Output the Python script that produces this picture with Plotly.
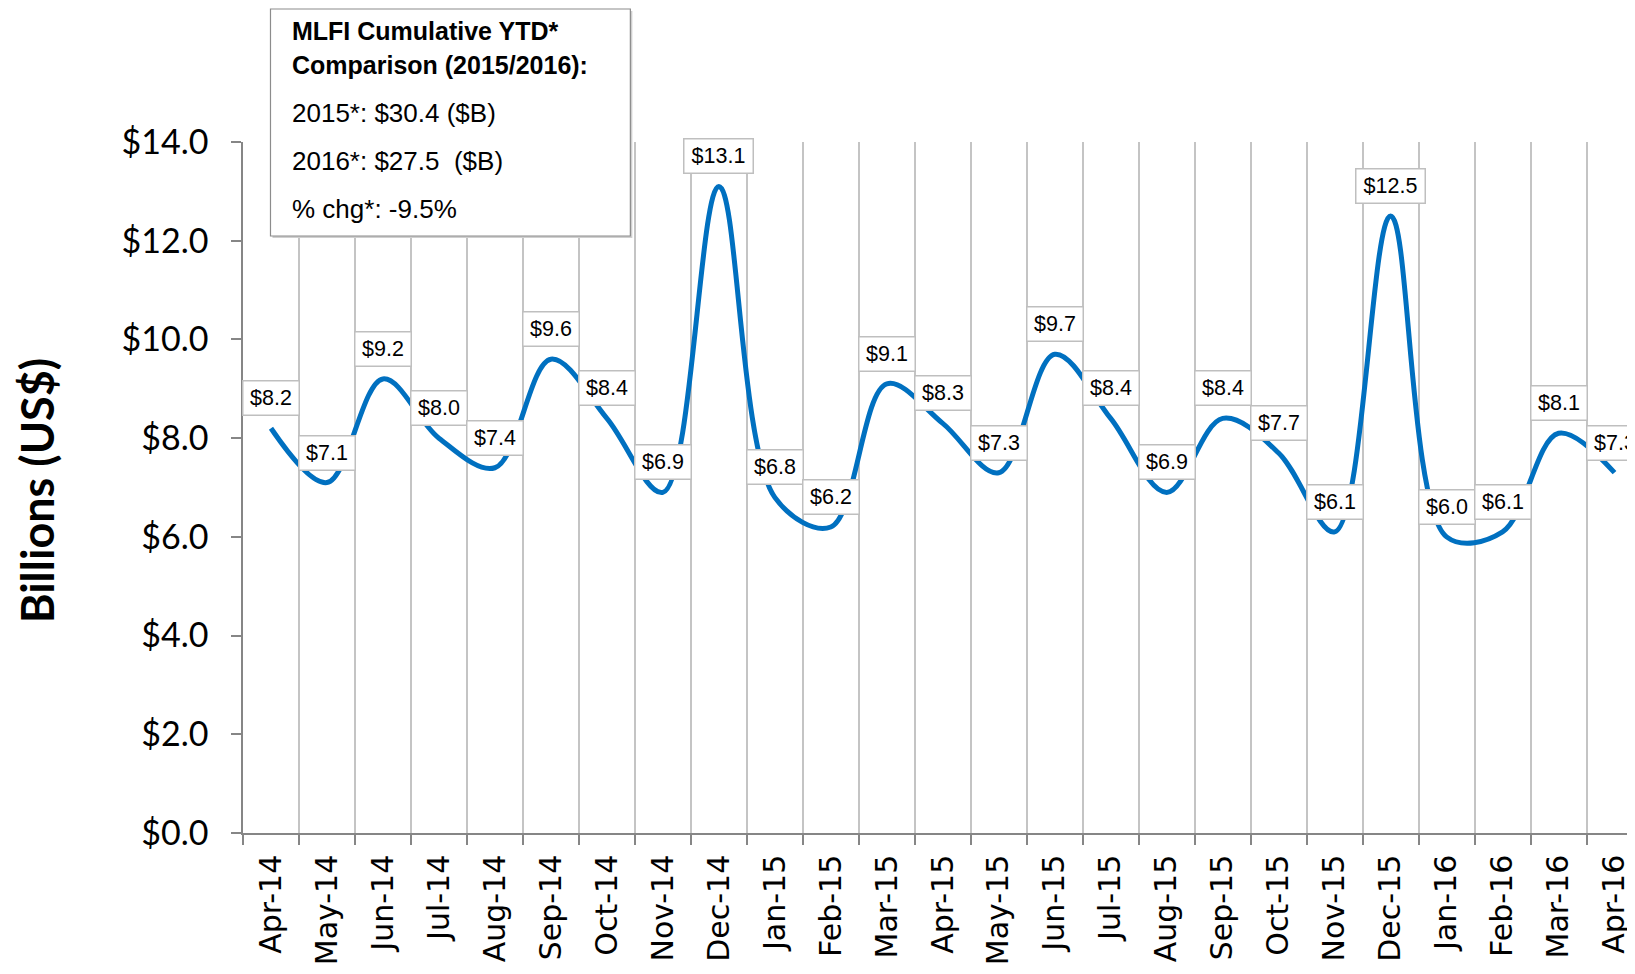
import plotly.graph_objects as go

months = ["Apr-14", "May-14", "Jun-14", "Jul-14", "Aug-14", "Sep-14", "Oct-14", "Nov-14",
          "Dec-14", "Jan-15", "Feb-15", "Mar-15", "Apr-15", "May-15", "Jun-15", "Jul-15",
          "Aug-15", "Sep-15", "Oct-15", "Nov-15", "Dec-15", "Jan-16", "Feb-16", "Mar-16", "Apr-16"]
values = [8.2, 7.1, 9.2, 8.0, 7.4, 9.6, 8.4, 6.9, 13.1, 6.8, 6.2, 9.1, 8.3, 7.3, 9.7, 8.4,
          6.9, 8.4, 7.7, 6.1, 12.5, 6.0, 6.1, 8.1, 7.3]
y_ticks = [0, 2, 4, 6, 8, 10, 12, 14]
y_tick_labels = ["$0.0", "$2.0", "$4.0", "$6.0", "$8.0", "$10.0", "$12.0", "$14.0"]
info_lines = ["<b>MLFI Cumulative YTD*</b>", "<b>Comparison (2015/2016):</b>",
              "2015*: $30.4 ($B)", "2016*: $27.5  ($B)", "% chg*: -9.5%"]
y_title = "Billions (US$)"

# the page body adds an 8px margin, so the figure is laid out in page coords minus 8
OFF = 8
W, H = 1635 - OFF, 974 - 2 * OFF
L = 242.5 - OFF
T = 142 - OFF
PLOT_BOTTOM = 833 - OFF
B = H - PLOT_BOTTOM
PW, PH = W - L, PLOT_BOTTOM - T
cat_w = 56.0


def px(x):
    # page x -> paper x
    return (x - OFF - L) / PW


def py(y):
    # page y -> paper y
    return (PLOT_BOTTOM - (y - OFF)) / PH


fig = go.Figure()
fig.add_trace(go.Scatter(
    x=months, y=values, mode="lines",
    line=dict(color="#0070C0", width=5, shape="spline", smoothing=1.0),
    hoverinfo="x+y", showlegend=False,
))

annotations = []
for m, v in zip(months, values):
    txt = f"${v:.1f}"
    annotations.append(dict(
        x=m, y=v, xref="x", yref="y", text=txt, showarrow=False, yshift=30,
        font=dict(family="Liberation Sans, Arial", size=21.5, color="black"),
        bgcolor="white", bordercolor="#bfbfbf", borderwidth=1.5, borderpad=3,
        width=49 if len(txt) <= 4 else 62, height=27,
    ))

# info box text
line_y = [31, 65, 113, 161, 209]
line_size = [25, 25, 26, 26, 26]
for t, yy, s in zip(info_lines, line_y, line_size):
    annotations.append(dict(
        x=px(290), y=py(yy), xref="paper", yref="paper", text=t, showarrow=False,
        xanchor="left", yanchor="middle", align="left",
        font=dict(family="Liberation Sans, Arial", size=s, color="black"),
    ))

annotations.append(dict(
    x=px(36.5), y=py(491), xref="paper", yref="paper", text=f"<b>{y_title}</b>",
    showarrow=False, textangle=-90, xanchor="center", yanchor="middle",
    font=dict(family="Lato", size=45, color="black"),
))

shapes = [
    dict(type="rect", xref="paper", yref="paper", layer="above",
         x0=px(272), x1=px(632), y0=py(238), y1=py(11),
         fillcolor="#cfcfcf", line=dict(width=0)),
    dict(type="rect", xref="paper", yref="paper", layer="above",
         x0=px(270), x1=px(630), y0=py(236), y1=py(9),
         fillcolor="white", line=dict(color="#8c8c8c", width=1.2)),
]

fig.update_layout(
    width=W, height=H,
    margin=dict(l=L, r=0, t=T, b=B, autoexpand=False),
    paper_bgcolor="white", plot_bgcolor="white",
    annotations=annotations, shapes=shapes,
    xaxis=dict(
        type="category", range=[-0.5, -0.5 + PW / cat_w],
        tickson="boundaries", ticks="outside", ticklen=10, tickwidth=1.5, tickcolor="#868686",
        showgrid=True, gridcolor="#c4c4c4", gridwidth=1.5,
        showline=True, linecolor="#868686", linewidth=1.5,
        tickangle=-90, ticklabelstandoff=8,
        tickfont=dict(family="DejaVu Sans", size=30, color="black"),
    ),
    yaxis=dict(
        range=[0, 14], tickvals=y_ticks, ticktext=y_tick_labels,
        ticks="outside", ticklen=10, tickwidth=1.5, tickcolor="#868686",
        showgrid=False, zeroline=False,
        showline=True, linecolor="#868686", linewidth=1.5,
        ticklabelstandoff=16,
        tickfont=dict(family="Lato", size=34, color="black"),
    ),
)

fig.write_html("out.html")
